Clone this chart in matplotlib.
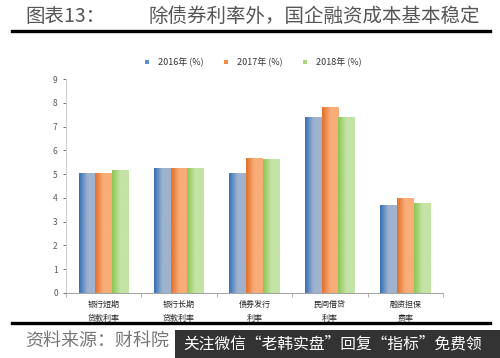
import numpy as np
import matplotlib
matplotlib.use("Agg")
import matplotlib.pyplot as plt
from matplotlib.colors import LinearSegmentedColormap
from matplotlib.patches import Rectangle
from matplotlib.lines import Line2D

plt.rcParams['font.family'] = ['Noto Sans CJK SC', 'DejaVu Sans']

# --- Datos ---
categorias = ["银行短期\n贷款利率", "银行长期\n贷款利率", "债券发行\n利率", "民间借贷\n利率", "融资担保\n费率"]
series = ["2016年 (%)", "2017年 (%)", "2018年 (%)"]
v2016 = [5.03, 5.22, 5.01, 7.38, 3.67]
v2017 = [5.03, 5.25, 5.67, 7.79, 3.99]
v2018 = [5.15, 5.25, 5.63, 7.38, 3.77]
valores = [v2016, v2017, v2018]

# degradado horizontal de cada serie (oscuro a la izquierda)
gradientes = [
    ("#336fb8", "#9fb3cf"),
    ("#e2702a", "#f9ad78"),
    ("#8cc653", "#c4e4a6"),
]
legend_colors = ["#5b8fd0", "#f08a45", "#a8d47c"]

fig = plt.figure(figsize=(5, 3.58), dpi=100)
ax = fig.add_axes([0.132, 0.1816, 0.754, 0.5974])

x = np.arange(len(categorias))
w = 0.222
grad = np.linspace(0, 1, 64).reshape(1, -1)
for i, vals in enumerate(valores):
    bars = ax.bar(x + (i - 1) * w, vals, w, color="none", linewidth=0)
    cmap = LinearSegmentedColormap.from_list("g%d" % i, [gradientes[i][0], gradientes[i][1], gradientes[i][1]])
    for b in bars:
        x0, y0 = b.get_x(), b.get_y()
        ax.imshow(grad, cmap=cmap, aspect="auto", interpolation="bicubic",
                  extent=(x0, x0 + b.get_width(), y0, y0 + b.get_height()), zorder=2)

ax.set_xlim(-0.5, len(categorias) - 0.5)
ax.set_ylim(0, 9)
ax.set_yticks(range(0, 10))
ax.tick_params(axis="y", labelsize=6, colors="#595959", length=2, width=0.6, pad=4)
ax.set_xticks(x)
ax.set_xticklabels(categorias, fontsize=5.8, color="#222222", linespacing=1.75)
ax.tick_params(axis="x", length=0, pad=5)
ax.set_xticks(np.arange(-0.5, len(categorias)), minor=True)
ax.tick_params(axis="x", which="minor", length=3, width=0.6, color="#a6a6a6")
for s in ["top", "right"]:
    ax.spines[s].set_visible(False)
ax.spines["left"].set_color("#d0d0d0")
ax.spines["bottom"].set_color("#a6a6a6")
ax.spines["left"].set_linewidth(0.8)
ax.spines["bottom"].set_linewidth(0.8)

handles = [Line2D([], [], marker="s", linestyle="none", markersize=3.5,
                  markerfacecolor=c, markeredgewidth=0) for c in legend_colors]
fig.legend(handles, series, loc="center", bbox_to_anchor=(0.5, 0.826), ncol=3,
           frameon=False, fontsize=6.5, handletextpad=0.2, columnspacing=1.5,
           labelcolor="#333333")

# titulo y lineas
fig.text(0.05, 0.955, "图表13：", fontsize=14, color="#555555", va="center")
fig.text(0.296, 0.955, "除债券利率外，国企融资成本基本稳定", fontsize=14, color="#555555", va="center")
fig.add_artist(Line2D([0.024, 0.98], [0.913, 0.913], color="black", linewidth=2.4))
fig.add_artist(Line2D([0.024, 0.98], [0.098, 0.098], color="black", linewidth=2.4))

fig.text(0.05, 0.048, "资料来源：财科院", fontsize=13, color="#777777", va="center")
fig.add_artist(Rectangle((0.35, 0.0), 0.65, 0.078, transform=fig.transFigure,
                         facecolor="#333333", edgecolor="none", zorder=5))
fig.text(0.366, 0.038, "关注微信“老韩实盘”回复“指标”免费领", fontsize=11.3,
         color="white", va="center", zorder=6)

fig.savefig("out.png", dpi=100)
